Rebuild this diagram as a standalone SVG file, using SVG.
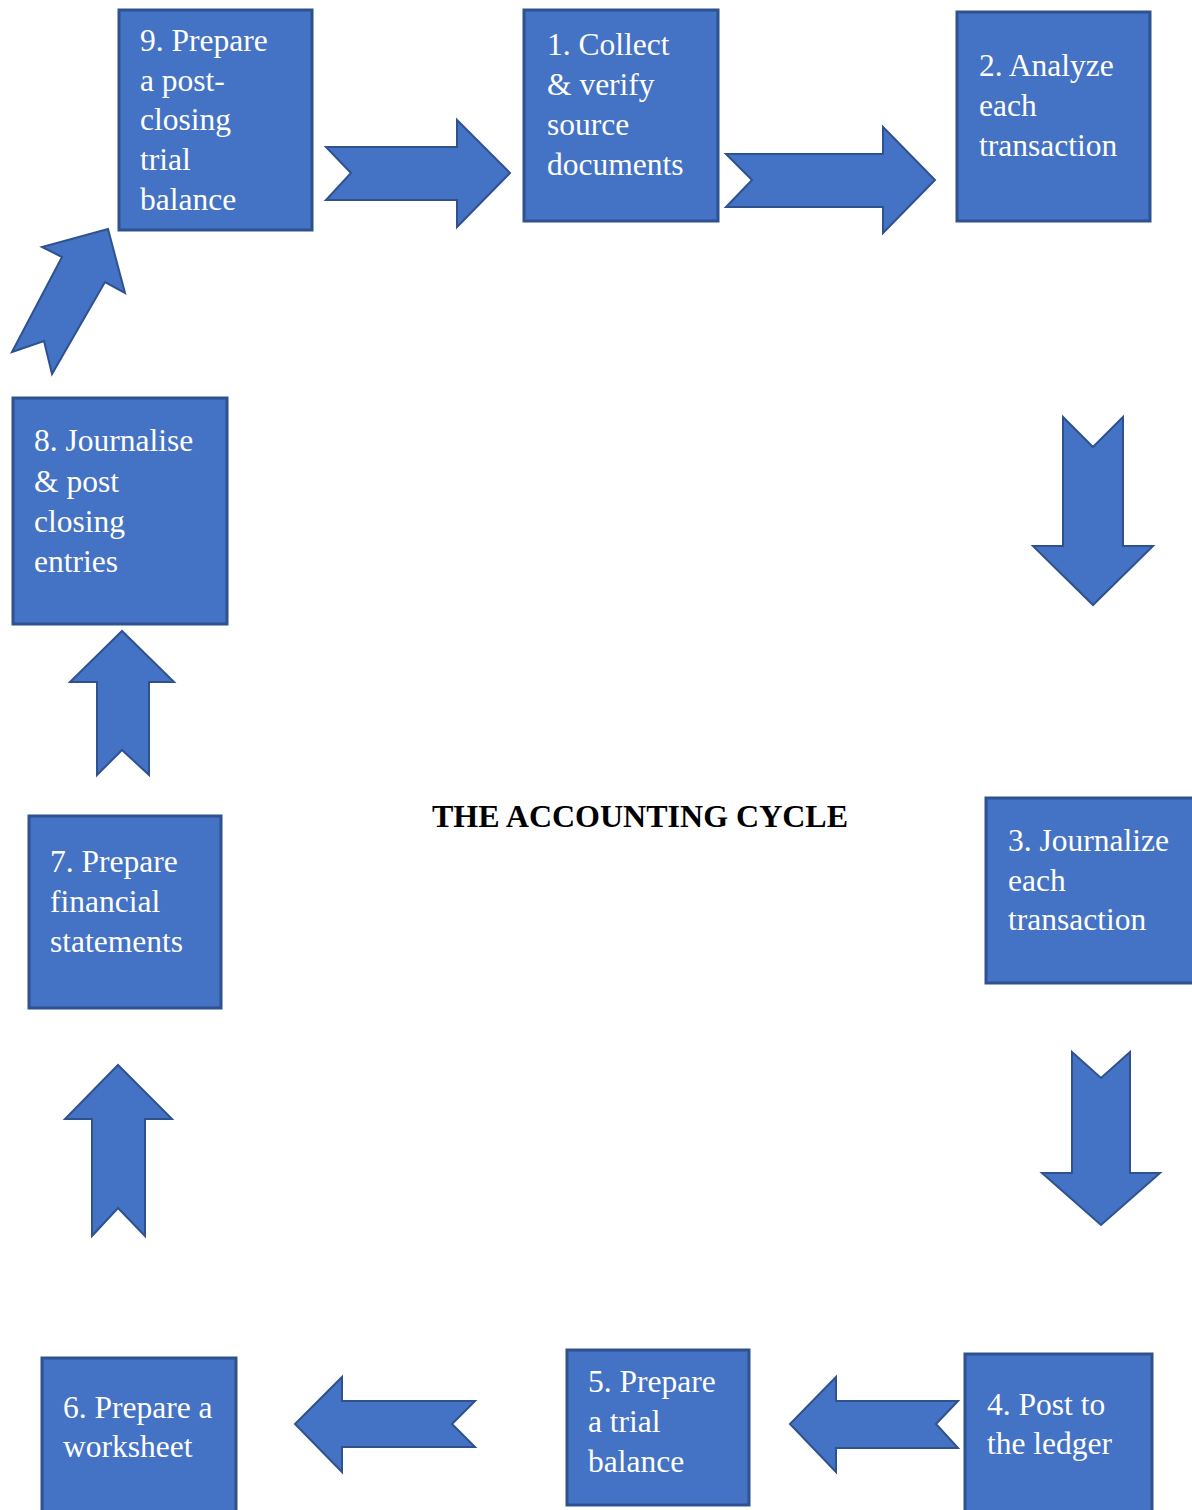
<svg xmlns="http://www.w3.org/2000/svg" width="1192" height="1510" viewBox="0 0 1192 1510">
<style>
.box{fill:#4472C4;stroke:#2F528F;stroke-width:3}
.arr{fill:#4472C4;stroke:#2F528F;stroke-width:2;stroke-linejoin:miter}
.t{font-family:"Liberation Serif","Times New Roman",serif;font-size:31.5px;fill:#FFFFFF}
.title{font-family:"Liberation Serif","Times New Roman",serif;font-size:32px;font-weight:bold;fill:#000000}
</style>
<rect width="1192" height="1510" fill="#FFFFFF"/>
<g id="connectors">
<polygon class="arr" points="326,147 457,147 457,120 510,173 457,227 457,200 326,200 351,173"/>
<polygon class="arr" points="726,154 883,154 883,127 935,180 883,233 883,207 726,207 752,180"/>
<polygon class="arr" points="1063,417 1093,447 1123,417 1123,546 1153,546 1093,605 1033,546 1063,546"/>
<polygon class="arr" points="1072,1052 1101,1078 1130,1052 1130,1173 1160,1173 1101,1225 1042,1173 1072,1173"/>
<polygon class="arr" points="958,1401 936,1424 958,1448 836,1448 836,1472 790,1424 836,1377 836,1401"/>
<polygon class="arr" points="475,1401 452,1424 475,1447 342,1447 342,1472 295,1424 342,1377 342,1401"/>
<polygon class="arr" points="92,1236 118,1208 145,1236 145,1119 172,1119 118,1065 65,1119 92,1119"/>
<polygon class="arr" points="97,775 122,750 149,775 149,682 174,682 122,631 70,682 97,682"/>
<polygon class="arr" points="12,352 44,341 52,374 105,282 125,293 108,229 42,247 62,257"/>
</g>
<g id="node9">
<rect class="box" x="119" y="10" width="193" height="220"/>
<text class="t" x="140" y="51">9. Prepare</text>
<text class="t" x="140" y="91">a post-</text>
<text class="t" x="140" y="130">closing</text>
<text class="t" x="140" y="170">trial</text>
<text class="t" x="140" y="210">balance</text>
</g>
<g id="node1">
<rect class="box" x="524" y="10" width="194" height="211"/>
<text class="t" x="547" y="55">1. Collect</text>
<text class="t" x="547" y="95">&amp; verify</text>
<text class="t" x="547" y="135">source</text>
<text class="t" x="547" y="175">documents</text>
</g>
<g id="node2">
<rect class="box" x="957" y="12" width="193" height="209"/>
<text class="t" x="979" y="76">2. Analyze</text>
<text class="t" x="979" y="116">each</text>
<text class="t" x="979" y="156">transaction</text>
</g>
<g id="node3">
<rect class="box" x="986" y="798" width="210" height="185"/>
<text class="t" x="1008" y="851">3. Journalize</text>
<text class="t" x="1008" y="891">each</text>
<text class="t" x="1008" y="930">transaction</text>
</g>
<g id="node4">
<rect class="box" x="965" y="1354" width="187" height="170"/>
<text class="t" x="987" y="1415">4. Post to</text>
<text class="t" x="987" y="1454">the ledger</text>
</g>
<g id="node5">
<rect class="box" x="567" y="1350" width="182" height="155"/>
<text class="t" x="588" y="1392">5. Prepare</text>
<text class="t" x="588" y="1432">a trial</text>
<text class="t" x="588" y="1472">balance</text>
</g>
<g id="node6">
<rect class="box" x="42" y="1358" width="194" height="170"/>
<text class="t" x="63" y="1418">6. Prepare a</text>
<text class="t" x="63" y="1457">worksheet</text>
</g>
<g id="node7">
<rect class="box" x="29" y="816" width="192" height="192"/>
<text class="t" x="50" y="872">7. Prepare</text>
<text class="t" x="50" y="912">financial</text>
<text class="t" x="50" y="952">statements</text>
</g>
<g id="node8">
<rect class="box" x="13" y="398" width="214" height="226"/>
<text class="t" x="34" y="451">8. Journalise</text>
<text class="t" x="34" y="492">&amp; post</text>
<text class="t" x="34" y="532">closing</text>
<text class="t" x="34" y="572">entries</text>
</g>
<text class="title" x="640" y="827" text-anchor="middle">THE ACCOUNTING CYCLE</text>
</svg>
